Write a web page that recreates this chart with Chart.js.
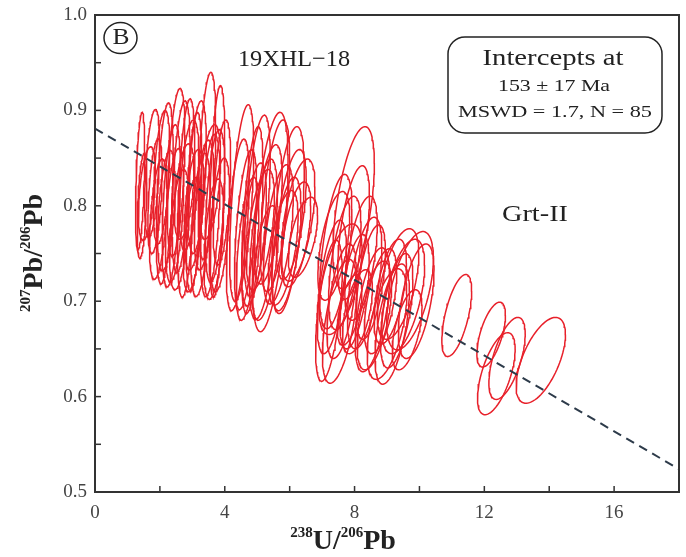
<!DOCTYPE html>
<html><head><meta charset="utf-8">
<script src="https://cdn.jsdelivr.net/npm/chart.js@4.4.1/dist/chart.umd.min.js"></script>
<style>html,body{margin:0;padding:0;background:#fff;}canvas{display:block;}</style>
</head><body>
<canvas id="c" width="686" height="557"></canvas>
<script>
// Ellipse centres (238U/206Pb, 207Pb/206Pb), half-extents and error correlation
const ellX  = [1.39,1.60,1.76,2.15,2.50,2.81,3.05,3.45,3.76,3.91,2.90,2.20,2.60,3.36,3.66,3.05,1.95,3.54,2.75,
               4.52,4.85,5.40,5.95,6.26,6.41,5.19,5.65,5.10,5.80,4.64,5.34,6.05,
               7.97,7.97,7.42,7.36,7.57,7.21,8.31,8.55,7.85,8.09,7.54,
               9.71,9.34,9.50,9.00,9.16,8.61,9.62,
               11.15,12.21,12.37,12.70,13.74,
               1.45,2.35,2.65,3.25,3.55,3.85,2.05,3.15,
               4.40,5.00,5.55,5.90,6.20,4.70,
               7.70,8.20,7.30,8.80,9.30,9.90,
               2.45,3.00,1.85,3.70,5.25,4.90,8.00,7.60,9.10,8.50];
const ellY  = [0.826,0.813,0.834,0.813,0.835,0.808,0.804,0.842,0.815,0.814,0.822,0.795,0.775,0.801,0.765,0.796,0.786,0.825,0.815,
               0.803,0.785,0.783,0.785,0.785,0.767,0.765,0.770,0.775,0.756,0.775,0.791,0.791,
               0.798,0.772,0.752,0.758,0.723,0.690,0.719,0.691,0.691,0.689,0.679,
               0.711,0.718,0.705,0.676,0.676,0.685,0.670,
               0.685,0.665,0.624,0.640,0.638,
               0.800,0.800,0.820,0.780,0.790,0.780,0.830,0.830,
               0.780,0.800,0.800,0.760,0.770,0.755,
               0.740,0.745,0.715,0.700,0.690,0.700,
               0.790,0.770,0.810,0.800,0.740,0.770,0.710,0.700,0.710,0.720];
const ellSX = [0.14,0.26,0.23,0.26,0.27,0.27,0.24,0.27,0.24,0.27,0.30,0.27,0.30,0.30,0.30,0.30,0.27,0.33,0.30,
               0.37,0.33,0.55,0.50,0.52,0.45,0.43,0.46,0.43,0.46,0.34,0.43,0.46,
               0.64,0.49,0.50,0.49,0.66,0.41,0.53,0.53,0.38,0.46,0.53,
               0.72,0.64,0.66,0.61,0.53,0.53,0.46,
               0.46,0.44,0.58,0.56,0.76,
               0.15,0.28,0.28,0.30,0.30,0.30,0.25,0.28,
               0.35,0.40,0.45,0.45,0.45,0.35,
               0.50,0.50,0.45,0.50,0.50,0.55,
               0.28,0.28,0.22,0.30,0.40,0.38,0.45,0.45,0.50,0.45];
const ellSY = [0.072,0.049,0.067,0.095,0.088,0.104,0.094,0.098,0.111,0.076,0.068,0.063,0.063,0.068,0.063,0.063,0.063,0.060,0.050,
               0.103,0.098,0.115,0.098,0.064,0.042,0.084,0.073,0.063,0.060,0.084,0.073,0.068,
               0.085,0.070,0.081,0.057,0.058,0.074,0.069,0.065,0.037,0.044,0.065,
               0.062,0.058,0.060,0.058,0.063,0.057,0.042,
               0.043,0.034,0.043,0.043,0.045,
               0.055,0.085,0.090,0.075,0.085,0.070,0.070,0.080,
               0.090,0.095,0.090,0.070,0.055,0.075,
               0.070,0.065,0.070,0.055,0.060,0.060,
               0.070,0.060,0.060,0.080,0.060,0.075,0.060,0.060,0.055,0.060];
const ellRho = [0.45,0.45,0.45,0.45,0.45,0.45,0.45,0.45,0.45,0.45,0.45,0.45,0.45,0.45,0.45,0.45,0.45,0.45,0.45,
                0.55,0.55,0.55,0.55,0.55,0.55,0.55,0.55,0.55,0.55,0.55,0.55,0.55,
                0.55,0.55,0.55,0.55,0.55,0.55,0.55,0.55,0.55,0.55,0.55,
                0.55,0.55,0.55,0.55,0.55,0.55,0.55,
                0.6,0.6,0.6,0.6,0.6,
                0.45,0.45,0.45,0.45,0.45,0.45,0.45,0.45,
                0.55,0.55,0.55,0.55,0.55,0.55,
                0.55,0.55,0.55,0.55,0.55,0.55,
                0.45,0.45,0.45,0.45,0.55,0.55,0.55,0.55,0.55,0.55];
// Discordia line
const lineX = [0, 18];
const lineY = [0.881, 0.524];
// Tick labels
const xTicks = [0, 4, 8, 12, 16];
const yTicks = [0.5, 0.6, 0.7, 0.8, 0.9, 1.0];
const xMinor = [2, 6, 10, 14];
const yMinor = [0.55, 0.65, 0.75, 0.85, 0.95];

function ellipse(i){
  const pts=[]; const r=ellRho[i], q=Math.sqrt(1-r*r);
  for(let k=0;k<=80;k++){
    const t=2*Math.PI*k/80;
    pts.push({x: ellX[i]+ellSX[i]*Math.cos(t), y: ellY[i]+ellSY[i]*(r*Math.cos(t)+q*Math.sin(t))});
  }
  return pts;
}

const datasets=[{
  data: lineX.map((x,i)=>({x, y: lineY[i]})),
  showLine:true, borderColor:'#2d3b4a', borderWidth:2, borderDash:[9,6], pointRadius:0, fill:false
}];
for(let i=0;i<ellX.length;i++){
  datasets.push({data: ellipse(i), showLine:true, borderColor:'#e8202a', borderWidth:1.5, pointRadius:0, fill:false, tension:0});
}

const serif = "'Liberation Serif','DejaVu Serif',serif";

function textW(ctx, txt, cx, cy, font, width){
  ctx.save(); ctx.font=font;
  const w=ctx.measureText(txt).width; const s=width/w;
  ctx.translate(cx, cy); ctx.scale(s, 1);
  ctx.textAlign='center'; ctx.textBaseline='middle';
  ctx.fillText(txt, 0, 0); ctx.restore();
}

const deco = {
  id:'deco',
  afterDraw(chart){
    const {ctx, chartArea:a, scales:{x, y}} = chart;
    ctx.save();
    ctx.strokeStyle='#333'; ctx.lineWidth=1.5;
    const tick=(px,py,dx,dy)=>{ctx.beginPath();ctx.moveTo(px,py);ctx.lineTo(px+dx,py+dy);ctx.stroke();};
    xTicks.concat(xMinor).forEach(v=>tick(x.getPixelForValue(v), a.bottom, 0, -6));
    yTicks.concat(yMinor).forEach(v=>tick(a.left, y.getPixelForValue(v), 6, 0));
    ctx.lineWidth=2; ctx.strokeStyle='#333';
    ctx.strokeRect(a.left, a.top, a.right-a.left, a.bottom-a.top);
    // axis titles with superscripts
    ctx.fillStyle='#222';
    const drawSup=(parts, cx, cy)=>{
      let w=0; parts.forEach(p=>{ctx.font=p[1]; w+=ctx.measureText(p[0]).width;});
      let xx=cx-w/2;
      parts.forEach(p=>{ctx.font=p[1]; ctx.fillText(p[0], xx, cy+p[2]); xx+=ctx.measureText(p[0]).width;});
    };
    ctx.textBaseline='alphabetic'; ctx.textAlign='left';
    const big="bold 28px "+serif, sm="bold 15px "+serif;
    drawSup([['238',sm,-12],['U/',big,0],['206',sm,-12],['Pb',big,0]], 343, 549);
    ctx.save(); ctx.translate(42, 253); ctx.rotate(-Math.PI/2);
    drawSup([['207',sm,-12],['Pb/',big,0],['206',sm,-12],['Pb',big,0]], 0, 0);
    ctx.restore();
    // B circle
    ctx.lineWidth=1.5; ctx.strokeStyle='#222';
    ctx.beginPath(); ctx.ellipse(120.5, 38, 16.5, 15.5, 0, 0, 2*Math.PI); ctx.stroke();
    textW(ctx, 'B', 121, 38, "24px "+serif, 17);
    textW(ctx, '19XHL\u221218', 294, 60, "24px "+serif, 112);
    textW(ctx, 'Grt-II', 535, 215, "23px "+serif, 66);
    // intercept box
    const bx=448, by=37, bw=214, bh=96, r=17;
    ctx.beginPath();
    ctx.moveTo(bx+r,by); ctx.lineTo(bx+bw-r,by); ctx.arcTo(bx+bw,by,bx+bw,by+r,r);
    ctx.lineTo(bx+bw,by+bh-r); ctx.arcTo(bx+bw,by+bh,bx+bw-r,by+bh,r);
    ctx.lineTo(bx+r,by+bh); ctx.arcTo(bx,by+bh,bx,by+bh-r,r);
    ctx.lineTo(bx,by+r); ctx.arcTo(bx,by,bx+r,by,r); ctx.closePath();
    ctx.lineWidth=1.5; ctx.stroke();
    textW(ctx, 'Intercepts at', 553, 59, "23px "+serif, 141);
    textW(ctx, '153 \u00b1 17 Ma', 554, 87, "17px "+serif, 112);
    textW(ctx, 'MSWD = 1.7, N = 85', 555, 113, "17px "+serif, 194);
    ctx.restore();
  }
};

new Chart(document.getElementById('c'), {
  type:'scatter',
  data:{datasets},
  options:{
    responsive:false, animation:false, devicePixelRatio:1,
    layout:{padding:{top:15,right:7,left:0,bottom:0}},
    plugins:{legend:{display:false}, tooltip:{enabled:false}},
    scales:{
      x:{type:'linear', min:0, max:18,
         afterBuildTicks(s){s.ticks=xTicks.map(v=>({value:v}));},
         afterFit(s){s.height=65; s.paddingLeft=0; s.paddingRight=0;},
         grid:{display:false, drawTicks:false}, border:{display:false},
         ticks:{padding:10, color:'#444', font:{family:serif, size:19}, callback:v=>String(v)}},
      y:{type:'linear', min:0.5, max:1.0,
         afterBuildTicks(s){s.ticks=yTicks.map(v=>({value:v}));},
         afterFit(s){s.width=95; s.paddingTop=0; s.paddingBottom=0;},
         grid:{display:false, drawTicks:false}, border:{display:false},
         ticks:{padding:8, color:'#444', font:{family:serif, size:19}, callback:v=>v.toFixed(1)}}
    }
  },
  plugins:[deco]
});
</script>
</body></html>
